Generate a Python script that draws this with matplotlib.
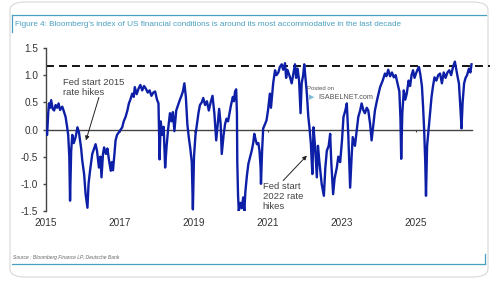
import numpy as np
import matplotlib
matplotlib.use('Agg')
import matplotlib.pyplot as plt
from matplotlib.patches import FancyBboxPatch
from matplotlib.lines import Line2D

plt.rcParams['font.family'] = ['Liberation Sans', 'DejaVu Sans']
plt.rcParams['axes.unicode_minus'] = False

# ===== data (fractional years) =====
years = [
    # 2015 - 2017.4
    2015.00, 2015.03, 2015.06, 2015.08, 2015.11, 2015.14, 2015.18, 2015.22, 2015.26, 2015.30,
    2015.34, 2015.38, 2015.44, 2015.48, 2015.53, 2015.57, 2015.60, 2015.63, 2015.65, 2015.68,
    2015.71, 2015.75, 2015.80, 2015.85, 2015.89, 2015.92, 2015.95, 2015.98, 2016.03, 2016.07,
    2016.12, 2016.15, 2016.19, 2016.25, 2016.30, 2016.34, 2016.38, 2016.43, 2016.47, 2016.50,
    2016.54, 2016.57, 2016.62, 2016.66, 2016.70, 2016.75, 2016.78, 2016.81, 2016.85, 2016.88,
    2016.92, 2016.97, 2017.02, 2017.06, 2017.10, 2017.15, 2017.20, 2017.24, 2017.28, 2017.33,
    2017.37,
    # 2017.4 - 2019.9
    2017.40, 2017.45, 2017.50, 2017.55, 2017.60, 2017.65, 2017.70, 2017.75, 2017.80, 2017.85,
    2017.90, 2017.95, 2018.00, 2018.04, 2018.07, 2018.10, 2018.14, 2018.18, 2018.22, 2018.26,
    2018.30, 2018.35, 2018.39, 2018.43, 2018.47, 2018.52, 2018.57, 2018.62, 2018.66, 2018.70,
    2018.74, 2018.78, 2018.82, 2018.86, 2018.90, 2018.94, 2018.97, 2019.00, 2019.04, 2019.08,
    2019.12, 2019.16, 2019.21, 2019.25, 2019.30, 2019.35, 2019.40, 2019.45, 2019.50, 2019.55,
    2019.60, 2019.64, 2019.68, 2019.72, 2019.75, 2019.80, 2019.84, 2019.88,
    # 2019.9 - 2024.3
    2019.92, 2019.96, 2020.00, 2020.05, 2020.08, 2020.11, 2020.14, 2020.16, 2020.17, 2020.19,
    2020.21, 2020.25, 2020.29, 2020.33, 2020.36, 2020.39, 2020.43, 2020.47, 2020.52, 2020.56,
    2020.60, 2020.63, 2020.67, 2020.70, 2020.74, 2020.77, 2020.80, 2020.81, 2020.84, 2020.87,
    2020.92, 2020.96, 2021.00, 2021.05, 2021.08, 2021.10, 2021.14, 2021.19, 2021.23, 2021.28,
    2021.32, 2021.37, 2021.41, 2021.46, 2021.49, 2021.52, 2021.55, 2021.60, 2021.64, 2021.69,
    2021.73, 2021.76, 2021.80, 2021.84, 2021.88, 2021.91, 2021.95, 2021.98, 2022.02, 2022.05,
    2022.09, 2022.12, 2022.16, 2022.18, 2022.20, 2022.23, 2022.27, 2022.32, 2022.35, 2022.39,
    2022.45, 2022.51, 2022.55, 2022.59, 2022.64, 2022.68, 2022.71, 2022.76, 2022.80, 2022.86,
    2022.90, 2022.95, 2023.00, 2023.04, 2023.09, 2023.13, 2023.17, 2023.22, 2023.26, 2023.29,
    2023.35, 2023.40, 2023.44, 2023.49, 2023.53, 2023.58, 2023.62, 2023.67, 2023.71, 2023.76,
    2023.80, 2023.84, 2023.89, 2023.95, 2024.03, 2024.10, 2024.16, 2024.20, 2024.25,
    # 2024.3 - 2026.5
    2024.30, 2024.35, 2024.40, 2024.45, 2024.50, 2024.55, 2024.58, 2024.60, 2024.63, 2024.67,
    2024.71, 2024.75, 2024.80, 2024.84, 2024.88, 2024.92, 2024.96, 2025.00, 2025.04, 2025.08,
    2025.12, 2025.16, 2025.19, 2025.22, 2025.25, 2025.27, 2025.30, 2025.34, 2025.38, 2025.42,
    2025.46, 2025.50, 2025.55, 2025.60, 2025.65, 2025.70, 2025.75, 2025.80, 2025.85, 2025.90,
    2025.95, 2026.00, 2026.05, 2026.09, 2026.13, 2026.16, 2026.20, 2026.23, 2026.26, 2026.30,
    2026.34, 2026.38, 2026.43, 2026.47, 2026.50,
]
fci = [
    # 2015 - 2017.4
    -0.05, -0.10, 0.30, 0.48, 0.40, 0.54, 0.38, 0.35, 0.45, 0.40,
    0.48, 0.36, 0.42, 0.34, 0.23, 0.05, -0.10, -0.50, -1.31, -0.40,
    -0.10, -0.25, -0.14, 0.04, -0.05, -0.20, -0.35, -0.57, -0.82, -1.19,
    -1.44, -1.00, -0.76, -0.45, -0.35, -0.27, -0.40, -0.70, -0.50, -0.88,
    -0.45, -0.33, -0.45, -0.35, -0.55, -0.76, -0.60, -0.75, -0.45, -0.20,
    -0.10, -0.05, 0.00, 0.04, 0.15, 0.23, 0.35, 0.48, 0.55, 0.66,
    0.60,
    # 2017.4 - 2019.9
    0.78, 0.65, 0.75, 0.82, 0.72, 0.80, 0.75, 0.68, 0.72, 0.62,
    0.68, 0.70, 0.55, 0.48, -0.55, 0.15, -0.10, 0.05, -0.70, -0.30,
    0.00, 0.30, 0.15, 0.32, -0.03, 0.35, 0.45, 0.55, 0.62, 0.70,
    0.85, 0.60, 0.10, -0.15, -0.35, -0.60, -1.47, -0.50, -0.10, 0.10,
    0.30, 0.45, 0.50, 0.58, 0.45, 0.52, 0.35, 0.50, 0.62, 0.30,
    -0.20, 0.10, 0.38, 0.10, -0.45, -0.10, 0.10, 0.20,
    # 2019.9 - 2024.3
    0.15, 0.30, 0.45, 0.60, 0.52, 0.70, 0.74, 0.30, -0.60, -1.20,
    -1.50, -1.35, -1.45, -1.25, -1.50, -1.13, -0.85, -0.63, -0.50, -0.39,
    -0.25, -0.08, -0.20, -0.27, -0.25, -0.39, -0.70, -1.00, -0.40, 0.02,
    0.10, 0.17, 0.35, 0.66, 0.40, 0.55, 0.85, 1.09, 1.00, 1.05,
    1.15, 1.20, 1.10, 1.22, 0.95, 1.10, 1.05, 0.95, 0.85, 1.05,
    1.20, 0.95, 1.12, 0.90, 0.30, 0.85, 1.00, 1.20, 0.90, 0.66,
    0.23, 0.04, -0.27, -0.57, -0.82, 0.04, -0.30, -0.88, -0.30, -0.60,
    -1.00, -1.22, -0.70, -0.39, -0.30, -0.08, -0.60, -1.19, -0.90, -0.70,
    -0.50, -0.60, -0.20, 0.23, 0.35, 0.48, -0.10, -1.07, -0.50, -0.14,
    -0.30, 0.00, 0.23, 0.35, 0.48, 0.35, 0.30, 0.40, 0.35, 0.10,
    -0.20, 0.05, 0.35, 0.55, 0.78, 0.90, 1.03, 0.98, 1.10,
    # 2024.3 - 2026.5
    0.98, 1.05, 0.96, 1.00, 0.85, 0.70, 0.20, -0.54, 0.30, 0.72,
    0.55, 0.66, 0.90, 0.80, 1.00, 1.09, 0.95, 1.03, 1.10, 1.15,
    1.00, 0.80, 0.44, 0.00, -0.60, -1.22, -0.30, 0.00, 0.30, 0.60,
    0.80, 0.96, 0.90, 1.00, 1.03, 0.85, 1.05, 0.95, 1.05, 1.09,
    1.00, 1.15, 1.25, 1.10, 0.95, 0.85, 0.40, 0.02, 0.50, 0.85,
    0.95, 1.00, 1.12, 1.05, 1.20,
]
tick_years = [2015, 2017, 2019, 2021, 2023, 2025]
y_ticks = [-1.5, -1.0, -0.5, 0.0, 0.5, 1.0, 1.5]
dash_level = 1.17

TITLE = "Figure 4: Bloomberg's index of US financial conditions is around its most accommodative in the last decade"
SOURCE = "Source : Bloomberg Finance LP, Deutsche Bank"
TEAL = '#4aa0c0'
BLUE = '#0d1fa6'

W, H = 500, 282
fig = plt.figure(figsize=(W / 100, H / 100), dpi=100)

def fx(px):
    return px / W

def fy(py):
    return 1 - py / H

# card frame (behind everything)
card = FancyBboxPatch((fx(10), fy(277)), fx(478), 275 / H,
                      boxstyle='round,pad=0,rounding_size=0.03',
                      transform=fig.transFigure, fc='none', ec='#d8d8d8', lw=0.8,
                      zorder=-10)
fig.patches.append(card)

# teal rules
fig.add_artist(Line2D([fx(12), fx(486)], [fy(15), fy(15)], color=TEAL, lw=0.9))
fig.add_artist(Line2D([fx(12), fx(12)], [fy(15), fy(32)], color=TEAL, lw=0.9))
fig.add_artist(Line2D([fx(12), fx(485)], [fy(264), fy(264)], color=TEAL, lw=0.9))
fig.add_artist(Line2D([fx(485), fx(485)], [fy(264), fy(254)], color=TEAL, lw=0.9))

fig.text(fx(15), fy(24.5), TITLE, color=TEAL, fontsize=5.9, va='center', ha='left')
fig.text(fx(13), fy(257), SOURCE, color='#666666', fontsize=3.6, style='italic',
         va='center', ha='left')

# axes
ax = fig.add_axes([fx(46), fy(211), fx(490) - fx(46), (211 - 48) / H])
ax.set_xlim(2015, 2027.0)
ax.set_ylim(-1.5, 1.5)

ax.axhline(0, xmin=0, xmax=(2026.5 - 2015) / 12.0, color='#444444', lw=1.0, zorder=1)
ax.vlines(tick_years[1:], -0.045, 0, color='#444444', lw=0.8, zorder=1)
ax.axhline(dash_level, color='black', lw=1.3, dashes=(4.4, 2.8), zorder=1)

ax.plot(years, fci, color=BLUE, lw=1.7, zorder=3, solid_joinstyle='round')

for s in ['top', 'right', 'bottom']:
    ax.spines[s].set_visible(False)
ax.spines['left'].set_color('#444444')
ax.spines['left'].set_linewidth(1.0)

ax.set_yticks(y_ticks)
ax.set_yticklabels([f'{v:.1f}' for v in y_ticks])
ax.set_xticks(tick_years)
ax.set_xticklabels([str(y) for y in tick_years])
ax.tick_params(axis='y', length=2.5, width=1.0, color='#444444', pad=3,
               labelsize=7.2, labelcolor='#333333')
ax.tick_params(axis='x', length=0, pad=5, labelsize=7.2, labelcolor='#333333')
ax.patch.set_alpha(0)

# annotations
arrow_kw = dict(arrowstyle='-|>', color='#222222', lw=0.7, mutation_scale=6,
                shrinkA=0, shrinkB=0)
ax.text(2015.45, 0.95, 'Fed start 2015\nrate hikes', fontsize=6.8, color='#444444',
        ha='left', va='top', linespacing=1.1)
ax.annotate('', xy=(2016.08, -0.2), xytext=(2016.43, 0.59), arrowprops=arrow_kw)
ax.text(2020.86, -0.97, 'Fed start\n2022 rate\nhikes', fontsize=6.8, color='#444444',
        ha='left', va='top', linespacing=1.1)
ax.annotate('', xy=(2022.05, -0.48), xytext=(2021.41, -0.94), arrowprops=arrow_kw)

# watermark
fig.text(fx(307), fy(88), 'Posted on', fontsize=4.3, color='#555555', va='center')
fig.text(fx(318), fy(97.5), 'ISABELNET.com', fontsize=5.2, color='#555555', va='center')
fig.text(fx(309), fy(98), '\u25b6', fontsize=5, color='#7fb8d8', va='center')

fig.savefig('out.png', dpi=100)
